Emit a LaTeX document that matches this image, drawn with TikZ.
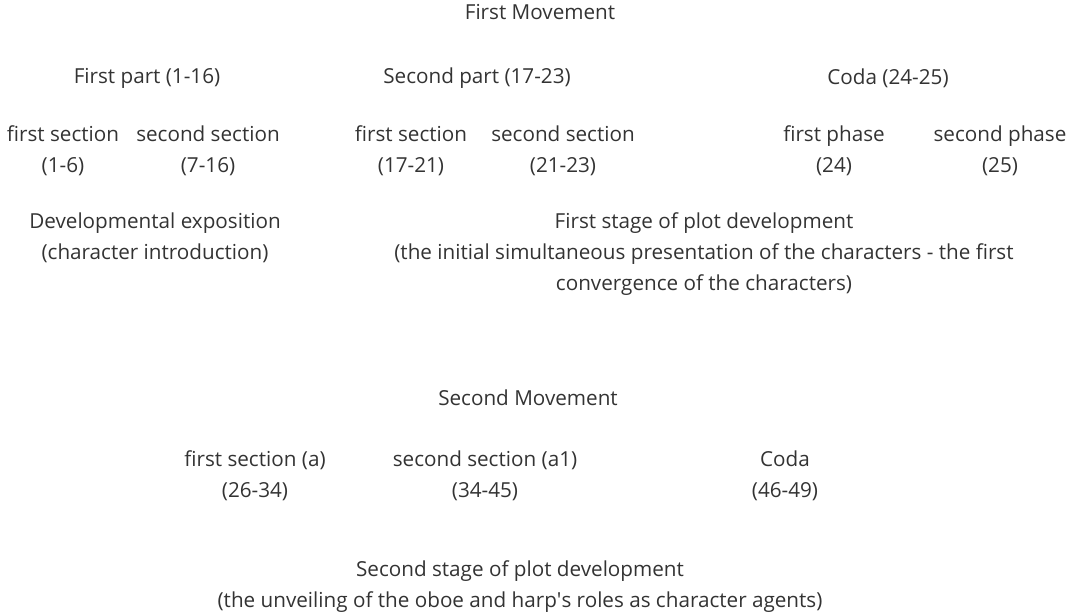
\documentclass[tikz,border=0pt]{standalone}
\usepackage{fontspec}
\setmainfont{Open Sans}
\usepackage{tikz}
\usetikzlibrary{positioning}
\definecolor{mvtext}{HTML}{333333}

\begin{document}
\begin{tikzpicture}[x=0.75pt, y=-0.75pt, font=\fontsize{15.5}{23.3}\selectfont, text=mvtext,
      lbl/.style={align=center, inner sep=0pt}]
      \useasboundingbox (0,0) rectangle (1080,612);
      % first movement
      \node[lbl] (mvone) at (540,12) {First Movement};
      \node[lbl] (partone) at (147,78) {First part (1-16)};
      \node[lbl] (parttwo) at (477,78) {Second part (17-23)};
      \node[lbl] (codaone) at (888,78) {Coda (24-25)};

      \node[lbl] (secaa) at (63,151) {first section\\(1-6)};
      \node[lbl] (secab) at (208,151) {second section\\(7-16)};
      \node[lbl] (secba) at (411,151) {first section\\(17-21)};
      \node[lbl] (secbb) at (563,151) {second section\\(21-23)};
      \node[lbl] (phasea) at (834,151) {first phase\\(24)};
      \node[lbl] (phaseb) at (1000,151) {second phase\\(25)};

      \node[lbl] (expo) at (155,238) {Developmental exposition\\(character introduction)};
      \node[lbl] (stageone) at (704,254) {First stage of plot development\\(the initial simultaneous presentation of the characters - the first\\convergence of the characters)};

      % second movement
      \node[lbl] (mvtwo) at (528,398) {Second Movement};
      \node[lbl] (secta) at (255,476) {first section (a)\\(26-34)};
      \node[lbl] (sectb) at (485,476) {second section (a1)\\(34-45)};
      \node[lbl] (codatwo) at (785,476) {Coda\\(46-49)};
      \node[lbl] (stagetwo) at (520,587) {Second stage of plot development\\(the unveiling of the oboe and harp\textquotesingle s roles as character agents)};
    \end{tikzpicture}
\end{document}
